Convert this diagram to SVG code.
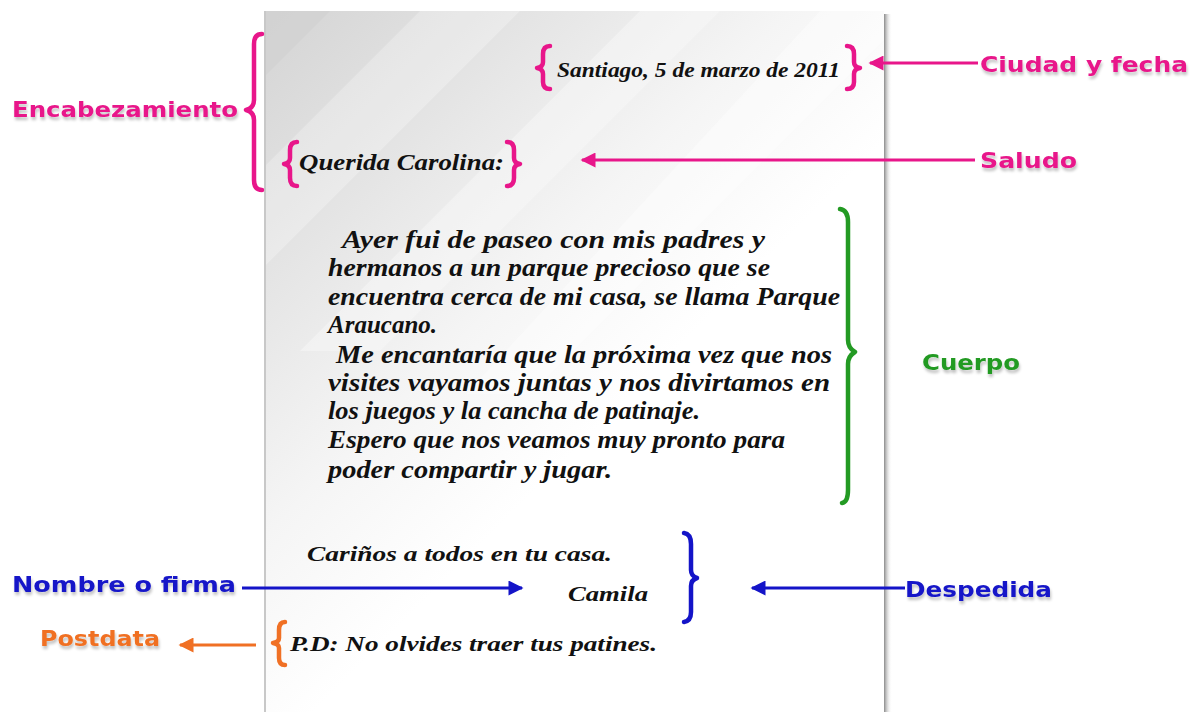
<svg xmlns="http://www.w3.org/2000/svg" width="1197" height="712" viewBox="0 0 1197 712">
<defs>
<linearGradient id="paper" gradientUnits="userSpaceOnUse" x1="266" y1="11" x2="640" y2="385">
<stop offset="0" stop-color="#d4d4d4"/>
<stop offset="0.35" stop-color="#e4e4e4"/>
<stop offset="0.7" stop-color="#f5f5f5"/>
<stop offset="1" stop-color="#ffffff"/>
</linearGradient>
<linearGradient id="shadowR" x1="0" y1="0" x2="1" y2="0">
<stop offset="0" stop-color="#8a8a8a"/>
<stop offset="1" stop-color="#ffffff" stop-opacity="0"/>
</linearGradient>
<marker id="ahPink" viewBox="0 0 10 10" refX="9" refY="5" markerWidth="6" markerHeight="5" orient="auto" markerUnits="strokeWidth">
<path d="M10,5 L0,0 L0,10 Z" fill="#e8168a"/>
</marker>
<marker id="ahBlue" viewBox="0 0 10 10" refX="9" refY="5" markerWidth="6" markerHeight="5" orient="auto" markerUnits="strokeWidth">
<path d="M10,5 L0,0 L0,10 Z" fill="#1414c8"/>
</marker>
<marker id="ahOrange" viewBox="0 0 10 10" refX="9" refY="5" markerWidth="6" markerHeight="5" orient="auto" markerUnits="strokeWidth">
<path d="M10,5 L0,0 L0,10 Z" fill="#f07024"/>
</marker>
<filter id="ts" x="-5%" y="-20%" width="110%" height="160%">
<feGaussianBlur in="SourceAlpha" stdDeviation="1.5"/>
<feOffset dx="1" dy="3" result="b"/>
<feComponentTransfer><feFuncA type="linear" slope="0.25"/></feComponentTransfer>
<feMerge><feMergeNode/><feMergeNode in="SourceGraphic"/></feMerge>
</filter>
</defs>
<style>
.lbl{font-family:"DejaVu Sans","Open Sans",sans-serif;font-weight:bold;font-size:22px;}
.pink{fill:#e8168a;}
.green{fill:#239a23;}
.blue{fill:#1414c8;}
.orange{fill:#f07024;}
.scr{font-family:"Liberation Serif","DejaVu Serif",serif;font-style:italic;font-weight:bold;fill:#111;}
.body{font-size:25px;}
.brace{fill:none;stroke-width:4.5;stroke-linecap:round;stroke-linejoin:round;}
.conn{fill:none;stroke-width:3;}
</style>
<rect width="1197" height="712" fill="#ffffff"/>
<g id="paper-sheet">
<rect x="884" y="14" width="8" height="698" fill="url(#shadowR)"/>
<rect x="264" y="11" width="2" height="701" fill="#c8c8c8"/>
<rect x="266" y="11" width="618" height="701" fill="url(#paper)"/>
<polygon points="266,11 330,11 266,75" fill="#d0d0d0" opacity="0.6"/>
<polygon points="420,11 520,11 266,265 266,165" fill="#ffffff" opacity="0.25"/>
<polygon points="640,11 720,11 380,351 300,351" fill="#ffffff" opacity="0.3"/>
<polygon points="820,11 884,11 884,40 530,394 466,394" fill="#ffffff" opacity="0.35"/>
</g>
<g id="connectors">
<line class="conn" x1="978" y1="63" x2="870" y2="63" stroke="#e8168a" marker-end="url(#ahPink)"/>
<line class="conn" x1="975" y1="160" x2="582" y2="160" stroke="#e8168a" marker-end="url(#ahPink)"/>
<line class="conn" x1="242" y1="588" x2="522" y2="588" stroke="#1414c8" marker-end="url(#ahBlue)"/>
<line class="conn" x1="905" y1="588" x2="752" y2="588" stroke="#1414c8" marker-end="url(#ahBlue)"/>
<line class="conn" x1="256" y1="645" x2="180" y2="645" stroke="#f07024" marker-end="url(#ahOrange)"/>
</g>
<g id="encabezamiento">
<text class="lbl pink" x="12" y="117" textLength="226" lengthAdjust="spacingAndGlyphs" filter="url(#ts)">Encabezamiento</text>
<path class="brace" stroke="#e8168a" d="M262,34 Q254,34 254,44 L254,100 Q254,108 246,110 Q254,112 254,120 L254,180 Q254,190 262,190"/>
</g>
<g id="ciudad-fecha">
<path class="brace" stroke="#e8168a" d="M550,46 Q543,46 543,54 L543,62 Q543,67 537,68 Q543,69 543,74 L543,82 Q543,89 550,89"/>
<text class="scr" x="557" y="77" font-size="20" textLength="283" lengthAdjust="spacingAndGlyphs">Santiago, 5 de marzo de 2011</text>
<path class="brace" stroke="#e8168a" d="M847,46 Q854,46 854,54 L854,62 Q854,67 860,68 Q854,69 854,74 L854,82 Q854,89 847,89"/>
<text class="lbl pink" x="980" y="72" textLength="208" lengthAdjust="spacingAndGlyphs" filter="url(#ts)">Ciudad y fecha</text>
</g>
<g id="saludo">
<path class="brace" stroke="#e8168a" d="M297,142 Q290,142 290,150 L290,158 Q290,163 284,164 Q290,165 290,170 L290,178 Q290,186 297,186"/>
<text class="scr" x="299" y="170" font-size="23" textLength="205" lengthAdjust="spacingAndGlyphs">Querida Carolina:</text>
<path class="brace" stroke="#e8168a" d="M507,142 Q514,142 514,150 L514,158 Q514,163 520,164 Q514,165 514,170 L514,178 Q514,186 507,186"/>
<text class="lbl pink" x="980" y="168" textLength="97" lengthAdjust="spacingAndGlyphs" filter="url(#ts)">Saludo</text>
</g>
<g id="cuerpo">
<text class="scr body" x="342" y="248" textLength="423" lengthAdjust="spacingAndGlyphs">Ayer fui de paseo con mis padres y</text>
<text class="scr body" x="328" y="276" textLength="442" lengthAdjust="spacingAndGlyphs">hermanos a un parque precioso que se</text>
<text class="scr body" x="328" y="305" textLength="512" lengthAdjust="spacingAndGlyphs">encuentra cerca de mi casa, se llama Parque</text>
<text class="scr body" x="328" y="333">Araucano.</text>
<text class="scr body" x="336" y="363" textLength="496" lengthAdjust="spacingAndGlyphs">Me encantaría que la próxima vez que nos</text>
<text class="scr body" x="328" y="391" textLength="502" lengthAdjust="spacingAndGlyphs">visites vayamos juntas  y nos divirtamos en</text>
<text class="scr body" x="328" y="419" textLength="372" lengthAdjust="spacingAndGlyphs">los juegos y la cancha de patinaje.</text>
<text class="scr body" x="328" y="448" textLength="457" lengthAdjust="spacingAndGlyphs">Espero que nos veamos muy pronto para</text>
<text class="scr body" x="328" y="478" textLength="284" lengthAdjust="spacingAndGlyphs">poder compartir y jugar.</text>
<path class="brace" stroke="#239a23" d="M840,209 Q848,210 848,222 L848,340 Q848,348 855,352 Q848,356 848,364 L848,490 Q848,502 842,503"/>
<text class="lbl green" x="922" y="370" textLength="98" lengthAdjust="spacingAndGlyphs" filter="url(#ts)">Cuerpo</text>
</g>
<g id="despedida">
<text class="scr" x="307" y="561" font-size="21" textLength="305" lengthAdjust="spacingAndGlyphs">Cariños a todos en tu casa.</text>
<path class="brace" stroke="#1414c8" d="M684,533 Q691,534 691,544 L691,570 Q691,576 697,578 Q691,580 691,586 L691,612 Q691,621 684,622"/>
<text class="lbl blue" x="905" y="597" textLength="147" lengthAdjust="spacingAndGlyphs" filter="url(#ts)">Despedida</text>
</g>
<g id="nombre-firma">
<text class="scr" x="568" y="601" font-size="22" textLength="80" lengthAdjust="spacingAndGlyphs">Camila</text>
<text class="lbl blue" x="12" y="592" textLength="224" lengthAdjust="spacingAndGlyphs" filter="url(#ts)">Nombre o firma</text>
</g>
<g id="postdata">
<path class="brace" stroke="#f07024" d="M285,622 Q279,622 279,630 L279,638 Q279,642 273,643 Q279,644 279,648 L279,658 Q279,665 285,665"/>
<text class="scr" x="290" y="651" font-size="21" textLength="367" lengthAdjust="spacingAndGlyphs">P.D: No olvides traer tus patines.</text>
<text class="lbl orange" x="40" y="646" textLength="120" lengthAdjust="spacingAndGlyphs" filter="url(#ts)">Postdata</text>
</g>
</svg>
